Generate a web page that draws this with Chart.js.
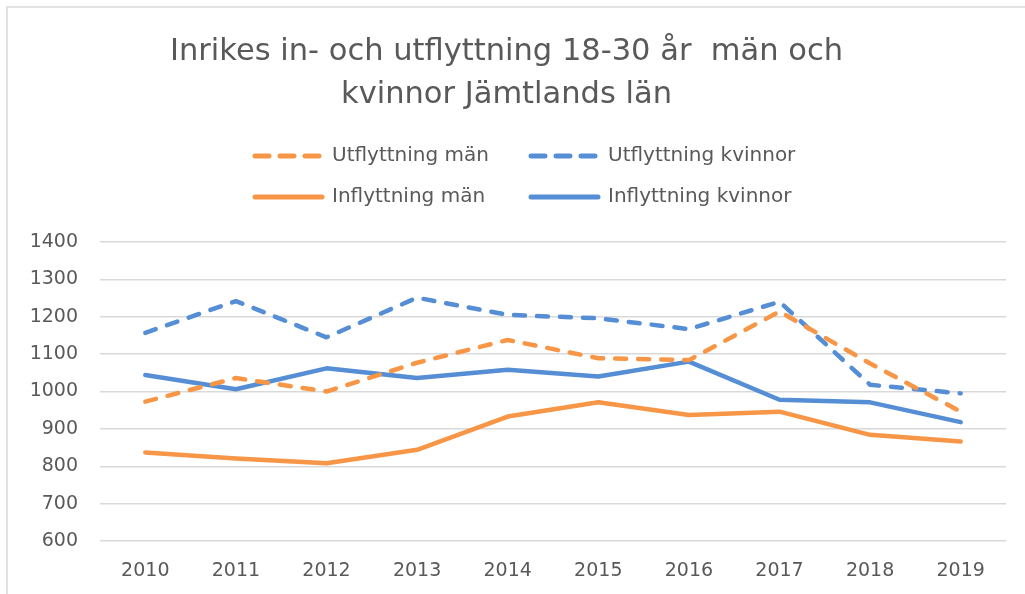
<!DOCTYPE html>
<html>
<head>
<meta charset="utf-8">
<script src="https://cdn.jsdelivr.net/npm/chart.js@4"></script>
<style>
  html, body { margin: 0; padding: 0; background: #fff; overflow: hidden; }
  #wrap { position: absolute; left: 0; top: 0; width: 1025px; height: 594px; }
</style>
</head>
<body>
<div id="wrap"><canvas id="flyttChart"></canvas></div>
<script>
// Inrikes in- och utflyttning 18-30 år, Jämtlands län
const years = ['2010', '2011', '2012', '2013', '2014', '2015', '2016', '2017', '2018', '2019'];
const utflyttningMan = [973, 1036, 1000, 1077, 1138, 1089, 1084, 1214, 1075, 946];
const utflyttningKvinnor = [1157, 1242, 1145, 1251, 1205, 1196, 1167, 1240, 1018, 995];
const inflyttningMan = [837, 821, 808, 844, 933, 971, 937, 946, 884, 866];
const inflyttningKvinnor = [1044, 1006, 1062, 1036, 1058, 1040, 1080, 978, 971, 918];
const yTicks = [600, 700, 800, 900, 1000, 1100, 1200, 1300, 1400];

const ORANGE = '#F79646';
const BLUE = '#558ED5';
const TEXT = '#595959';
const FONT = '"DejaVu Sans", "Open Sans", sans-serif';

function serie(label, data, color, dashed) {
    return {
        label: label,
        data: data,
        borderColor: color,
        backgroundColor: color,
        borderWidth: 4.5,
        borderDash: dashed ? [11, 12] : [],
        borderCapStyle: 'round',
        borderJoinStyle: 'round',
        pointRadius: 0,
        tension: 0,
        fill: false
    };
}

// Ram runt diagrammet (bara vänster- och överkant syns i bilden)
const frame = {
    id: 'frame',
    beforeDraw(chart) {
        const ctx = chart.ctx;
        ctx.save();
        ctx.strokeStyle = '#d9d9d9';
        ctx.lineWidth = 1.5;
        ctx.beginPath();
        ctx.moveTo(7, chart.height);
        ctx.lineTo(7, 7);
        ctx.lineTo(chart.width, 7);
        ctx.stroke();
        ctx.restore();
    }
};

// Legenden i två kolumner, som i originalet
const twoColLegend = {
    id: 'twoColLegend',
    afterDraw(chart) {
        const ctx = chart.ctx;
        const top = chart.chartArea.top;
        const rows = [top - 86, top - 45];
        const cols = [252, 528];
        const lineLen = 73;
        ctx.save();
        ctx.font = '20px ' + FONT;
        ctx.fillStyle = TEXT;
        ctx.textBaseline = 'middle';
        chart.data.datasets.forEach((ds, i) => {
            const x = cols[i % 2];
            const y = rows[Math.floor(i / 2)];
            ctx.strokeStyle = ds.borderColor;
            ctx.lineWidth = 5;
            ctx.lineCap = 'round';
            ctx.setLineDash(ds.borderDash.length ? [14, 11] : []);
            ctx.beginPath();
            ctx.moveTo(x + 3, y);
            ctx.lineTo(x + lineLen - 3, y);
            ctx.stroke();
            ctx.fillText(ds.label, x + lineLen + 7, y);
        });
        ctx.restore();
    }
};

new Chart(document.getElementById('flyttChart'), {
    type: 'line',
    data: {
        labels: years,
        datasets: [
            serie('Utflyttning män', utflyttningMan, ORANGE, true),
            serie('Utflyttning kvinnor', utflyttningKvinnor, BLUE, true),
            serie('Inflyttning män', inflyttningMan, ORANGE, false),
            serie('Inflyttning kvinnor', inflyttningKvinnor, BLUE, false)
        ]
    },
    options: {
        responsive: true,
        maintainAspectRatio: false,
        animation: false,
        layout: { padding: { left: 7, right: 19, top: 0, bottom: 0 } },
        plugins: {
            legend: { display: false },
            tooltip: { enabled: false },
            title: {
                display: true,
                text: ['Inrikes in- och utflyttning 18-30 år  män och', 'kvinnor Jämtlands län'],
                color: TEXT,
                font: { family: FONT, size: 30.5, weight: 'normal', lineHeight: 1.41 },
                padding: { top: 31, bottom: 125 }
            }
        },
        scales: {
            x: {
                offset: true,
                grid: { display: false, drawTicks: false },
                border: { display: false },
                ticks: { color: TEXT, font: { family: FONT, size: 19 }, padding: 19, maxRotation: 0 },
                afterFit: (s) => { s.height = 53; }
            },
            y: {
                min: 600,
                max: 1400,
                afterBuildTicks: (s) => { s.ticks = yTicks.map(v => ({ value: v })); },
                grid: { color: '#d9d9d9', lineWidth: 1.5, drawTicks: false },
                border: { display: false },
                ticks: {
                    color: TEXT, font: { family: FONT, size: 19 }, padding: 22,
                    callback: (v) => String(v)
                },
                afterFit: (s) => { s.width = 93; }
            }
        }
    },
    plugins: [frame, twoColLegend]
});
</script>
</body>
</html>
